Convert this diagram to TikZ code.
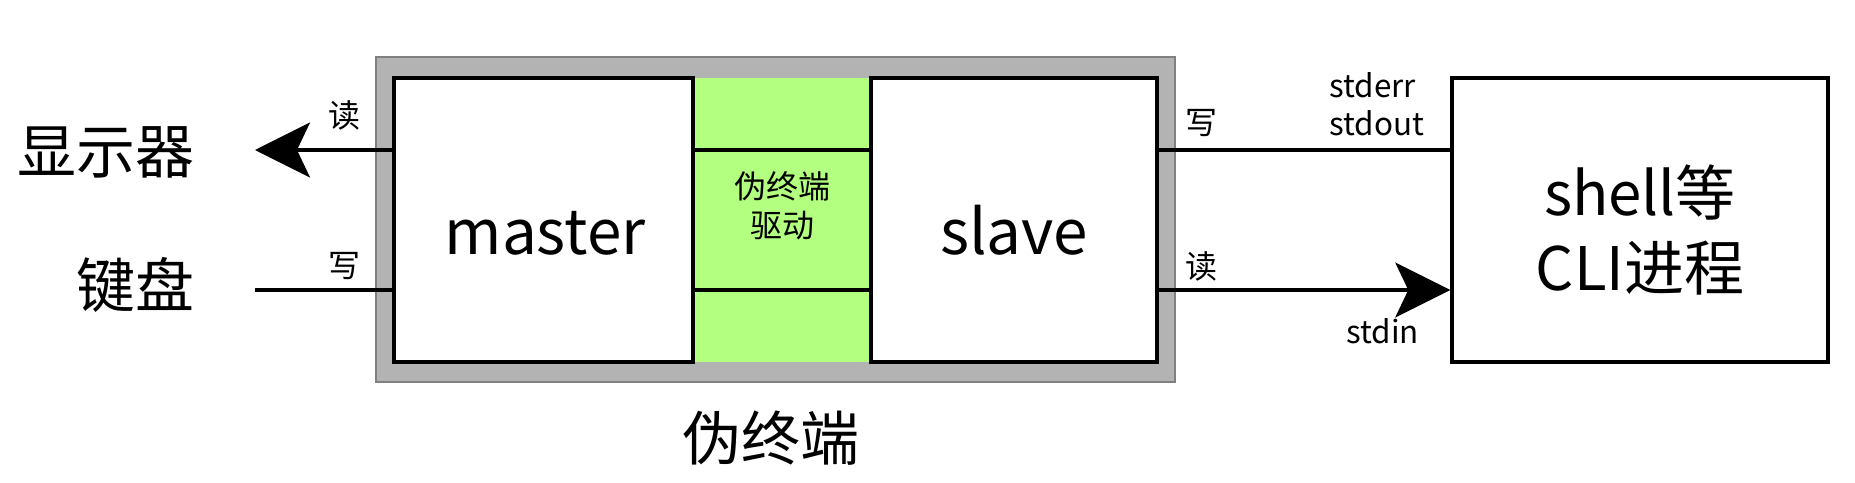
\documentclass[tikz,border=0pt]{standalone}
\usepackage{fontspec}
\setmainfont{Noto Sans CJK SC}
\usetikzlibrary{arrows.meta,fit}
\definecolor{ptygray}{RGB}{179,179,179}
\definecolor{ptyedge}{RGB}{128,128,128}
\definecolor{drvgreen}{RGB}{179,255,128}
\begin{document}
\begin{tikzpicture}[x=0.5pt,y=-0.5pt,
  box/.style={draw=black, line width=1.75pt, fill=white, inner sep=0pt},
  conn/.style={line width=1.65pt},
  arr/.style={conn, -{Stealth[length=27.5pt,width=27.5pt,inset=6.5pt]}},
  bigcjk/.style={font=\fontsize{29.5}{34}\selectfont, inner sep=0pt},
  boxtext/.style={font=\fontsize{31}{36}\selectfont, inner sep=0pt},
  shelltext/.style={font=\fontsize{30}{35}\selectfont, inner sep=0pt},
  small/.style={font=\fontsize{16}{19}\selectfont, inner sep=0pt},
  stdtext/.style={font=\fontsize{15.7}{19}\selectfont, inner sep=0pt}]
\useasboundingbox (0,0) rectangle (1855,482);
% pseudo terminal frame
\node[fill=ptygray, draw=ptyedge, line width=0.8pt, inner sep=0pt, fit={(376,57) (1175,382)}] (pty) {};
\node[fill=drvgreen, inner sep=0pt, fit={(693,78) (871,362)}] (drv) {};
\node[box, fit={(394,78) (693,362)}] (master) {};
\node[box, fit={(871,78) (1157,362)}] (slave) {};
\node[box, fit={(1452,78) (1828,362)}] (shell) {};
\coordinate (ytop) at (0,150);
\coordinate (ybot) at (0,290);
\draw[conn] (master.east |- ytop) -- (slave.west |- ytop);
\draw[conn] (master.east |- ybot) -- (slave.west |- ybot);
% texts
\node[boxtext, anchor=base] (mastert) at (545,254) {master};
\node[boxtext, anchor=base] (slavet) at (1014,254) {slave};
\node[shelltext, anchor=base] (shellt1) at (1640,215) {shell等};
\node[shelltext, anchor=base] (shellt2) at (1640,290) {CLI进程};
\node[small, align=center, font=\fontsize{16}{19.5}\selectfont] (drvt) at (782,206) {伪终端\\驱动};
\node[bigcjk] (ptyt) at (771,438) {伪终端};
\node[bigcjk, anchor=east] (disp) at (195,152) {显示器};
\node[bigcjk, anchor=east] (kbd) at (195,285) {键盘};
% connectors
\coordinate (dispTip) at (255,150);
\coordinate (kbdEnd) at (255,290);
\draw[arr] (master.west |- ytop) -- (dispTip);
\draw[conn] (kbdEnd) -- (master.west |- ybot);
\draw[conn] (slave.east |- ytop) -- (shell.west |- ytop);
\draw[arr] (slave.east |- ybot) -- (shell.west |- ybot);
% connector labels
\node[small] (lread) at (344,115) {读};
\node[small] (lwrite) at (344,266) {写};
\node[small] (rwrite) at (1201,123) {写};
\node[small] (rread) at (1201,266) {读};
\node[stdtext, anchor=base west] (stderr) at (1329,97) {stderr};
\node[stdtext, anchor=base west] (stdout) at (1329,135) {stdout};
\node[stdtext, anchor=base west] (stdin) at (1346,343) {stdin};
\end{tikzpicture}
\end{document}
